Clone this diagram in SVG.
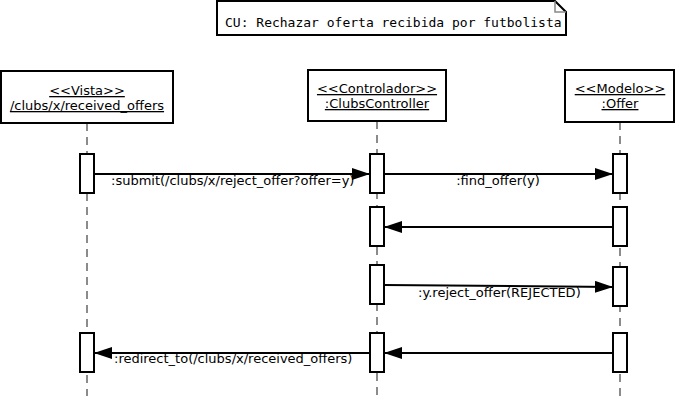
<svg xmlns="http://www.w3.org/2000/svg" width="675" height="403" viewBox="0 0 675 403">
<defs>
<style>
.box{fill:#fff;stroke:#000;stroke-width:2}
.act{fill:#fff;stroke:#000;stroke-width:2}
.life{stroke:#666;stroke-width:1.5;stroke-dasharray:8,6;fill:none}
.msg{stroke:#000;stroke-width:2;fill:none}
.lbl{font-family:"DejaVu Sans",sans-serif;font-size:13px;fill:#000}
.hd{font-family:"DejaVu Sans",sans-serif;font-size:13px;fill:#000;text-anchor:middle;text-decoration:underline}
.mono{font-family:"DejaVu Sans Mono",monospace;font-size:13px;fill:#000}
</style>
<marker id="arr" viewBox="0 0 18 12" refX="18" refY="6" markerWidth="18" markerHeight="12" markerUnits="userSpaceOnUse" orient="auto">
<path d="M0,0 L18,6 L0,12 Z" fill="#000"/>
</marker>
<clipPath id="noteclip"><rect x="217" y="1" width="349" height="34"/></clipPath>
</defs>
<g id="note">
<path d="M217,1 H555 L566,12 V35 H217 Z" class="box"/>
<path d="M555,1 V12 H566" fill="none" stroke="#888" stroke-width="1.5"/>
<text x="225" y="27" class="mono" clip-path="url(#noteclip)">CU: Rechazar oferta recibida por futbolista</text>
</g>
<g id="lifelines">
<line x1="87" y1="123" x2="87" y2="396" class="life"/>
<line x1="377" y1="121" x2="377" y2="396" class="life"/>
<line x1="620" y1="122" x2="620" y2="396" class="life"/>
</g>
<g id="vista">
<rect x="1" y="71" width="172" height="52" class="box"/>
<text x="87" y="95" class="hd">&lt;&lt;Vista&gt;&gt;</text>
<text x="87" y="110" class="hd">/clubs/x/received_offers</text>
</g>
<g id="controlador">
<rect x="308" y="70" width="138" height="51" class="box"/>
<text x="377" y="93" class="hd">&lt;&lt;Controlador&gt;&gt;</text>
<text x="377" y="108" class="hd">:ClubsController</text>
</g>
<g id="modelo">
<rect x="565" y="70" width="109" height="52" class="box"/>
<text x="620" y="93" class="hd">&lt;&lt;Modelo&gt;&gt;</text>
<text x="620" y="108" class="hd">:Offer</text>
</g>
<g id="activations">
<rect x="80" y="154" width="14" height="39" class="act"/>
<rect x="80" y="333" width="14" height="39" class="act"/>
<rect x="370" y="154" width="14" height="39" class="act"/>
<rect x="370" y="207" width="14" height="39" class="act"/>
<rect x="370" y="265" width="14" height="39" class="act"/>
<rect x="370" y="333" width="14" height="39" class="act"/>
<rect x="613" y="154" width="14" height="39" class="act"/>
<rect x="613" y="207" width="14" height="39" class="act"/>
<rect x="613" y="267" width="14" height="39" class="act"/>
<rect x="613" y="333" width="14" height="39" class="act"/>
</g>
<g id="connectors">
<line x1="94" y1="174" x2="370" y2="174" class="msg" marker-end="url(#arr)"/>
<line x1="384" y1="174" x2="613" y2="174" class="msg" marker-end="url(#arr)"/>
<line x1="613" y1="227" x2="384" y2="227" class="msg" marker-end="url(#arr)"/>
<line x1="384" y1="285" x2="613" y2="287" class="msg" marker-end="url(#arr)"/>
<line x1="613" y1="353" x2="384" y2="353" class="msg" marker-end="url(#arr)"/>
<line x1="370" y1="353" x2="94" y2="353" class="msg" marker-end="url(#arr)"/>
<text x="111" y="185" class="lbl">:submit(/clubs/x/reject_offer?offer=y)</text>
<text x="498" y="185" class="lbl" text-anchor="middle">:find_offer(y)</text>
<text x="418" y="297" class="lbl">:y.reject_offer(REJECTED)</text>
<text x="114" y="363" class="lbl">:redirect_to(/clubs/x/received_offers)</text>
</g>
</svg>
